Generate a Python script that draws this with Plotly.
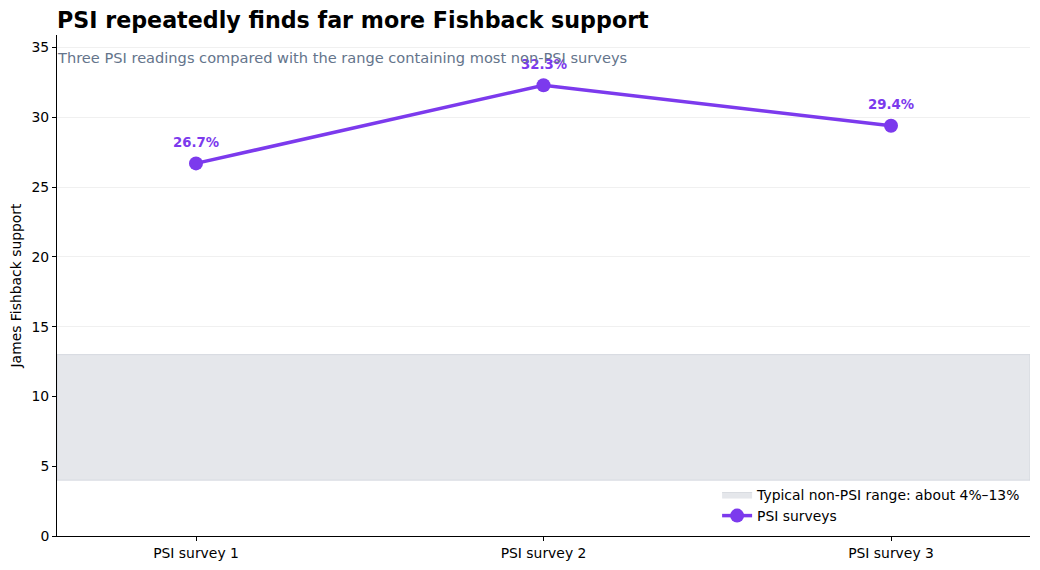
import plotly.graph_objects as go

surveys = ["PSI survey 1", "PSI survey 2", "PSI survey 3"]
support = [26.7, 32.3, 29.4]
band_low = 4
band_high = 13

purple = "#7c3aed"
font = "DejaVu Sans"

xs = list(range(len(surveys)))

fig = go.Figure()

# typical non-PSI range band
fig.add_trace(go.Scatter(
    x=[-0.4, 2.4, 2.4, -0.4, -0.4],
    y=[band_low, band_low, band_high, band_high, band_low],
    fill="toself", fillcolor="rgba(229,231,235,1)",
    line=dict(color="rgba(209,213,219,0.8)", width=1),
    mode="lines", hoverinfo="skip",
    name="Typical non-PSI range: about 4%\u201313%",
))

fig.add_trace(go.Scatter(
    x=xs, y=support, mode="lines+markers",
    line=dict(color=purple, width=3.5),
    marker=dict(color=purple, size=14),
    name="PSI surveys",
))

for x, v in zip(xs, support):
    fig.add_annotation(
        x=x, y=v, text=f"<b>{v:.1f}%</b>", showarrow=False,
        yshift=21, font=dict(color=purple, size=13.3),
    )

fig.update_layout(
    width=1040, height=570,
    margin=dict(l=49, r=18, t=27, b=42),
    plot_bgcolor="white", paper_bgcolor="white",
    font=dict(family=font, size=13.9, color="black"),
    title=dict(text="<b>PSI repeatedly finds far more Fishback support</b>",
               x=49 / 1040, xanchor="left", y=1 - 12 / 570, yanchor="middle",
               font=dict(size=22.2, color="black")),
    legend=dict(x=0.996, y=0.008, xanchor="right", yanchor="bottom",
                bgcolor="rgba(255,255,255,0)", font=dict(size=13.9)),
    showlegend=True,
)

fig.add_annotation(
    text="Three PSI readings compared with the range containing most non-PSI surveys",
    xref="paper", yref="paper", x=0, y=1, xanchor="left", yanchor="top",
    xshift=-2, yshift=-12,
    showarrow=False, font=dict(size=14.6, color="#64748b"),
)

fig.update_xaxes(
    range=[-0.4, 2.4], tickvals=xs, ticktext=surveys,
    showgrid=False, showline=True, linecolor="black", linewidth=1,
    ticks="outside", ticklen=4, tickcolor="black", zeroline=False,
    automargin=False,
)
fig.update_yaxes(
    range=[0, 35.9], dtick=5,
    title=dict(text="James Fishback support", font=dict(size=13.9)),
    showgrid=True, gridcolor="rgba(0,0,0,0.06)", gridwidth=1,
    showline=True, linecolor="black", linewidth=1,
    ticks="outside", ticklen=4, tickcolor="black", zeroline=False,
    automargin=False,
)

fig.write_html("out.html")
